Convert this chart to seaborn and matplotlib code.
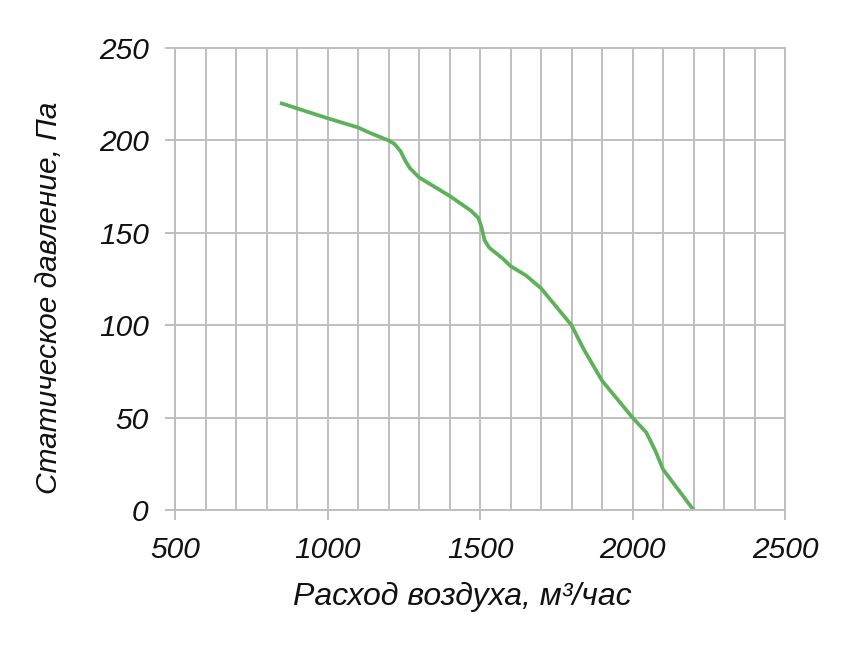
import matplotlib
matplotlib.use("Agg")
import matplotlib.pyplot as plt
import seaborn as sns
import pandas as pd
from matplotlib.ticker import MultipleLocator

# Характеристика вентилятора
расход = [850, 1000, 1100, 1140, 1200, 1220, 1240, 1255, 1270, 1300, 1360, 1400, 1470, 1495, 1505,
          1515, 1530, 1575, 1600, 1650, 1700, 1750, 1800, 1840, 1900, 2000, 2045, 2075, 2100, 2200]
давление = [220, 212, 207, 204, 200, 198, 194, 189, 185, 180, 174, 170, 162, 158, 153,
            146, 142, 136, 132, 127, 120, 110, 100, 87, 70, 50, 42, 32, 22, 0]

df = pd.DataFrame({'расход': расход, 'давление': давление})

plt.rcParams['font.family'] = ['Liberation Sans', 'DejaVu Sans']

grid_color = '#BFBFBF'
text_color = '#111111'

fig = plt.figure(figsize=(8.57, 6.54), dpi=100, facecolor='white')
ax = fig.add_axes([0.2042, 0.2202, 0.7118, 0.7064])

sns.lineplot(data=df, x='расход', y='давление', ax=ax, color='#5DB15A', linewidth=2.7)

ax.set_xlim(500, 2500)
ax.set_ylim(0, 250)
ax.xaxis.set_major_locator(MultipleLocator(500))
ax.xaxis.set_minor_locator(MultipleLocator(100))
ax.yaxis.set_major_locator(MultipleLocator(50))

ax.grid(True, which='major', axis='y', color=grid_color, linewidth=1.4)
ax.grid(True, which='both', axis='x', color=grid_color, linewidth=1.4)
ax.set_axisbelow(True)
for s in ax.spines.values():
    s.set_color(grid_color)
    s.set_linewidth(1.4)

ax.tick_params(axis='both', which='major', direction='out', length=7, width=1.4,
               color=grid_color, labelsize=21.5, labelcolor=text_color, pad=12)
ax.tick_params(axis='x', which='minor', length=0)
ax.tick_params(axis='x', which='major', pad=12)
for lbl in ax.get_xticklabels() + ax.get_yticklabels():
    lbl.set_fontstyle('italic')

ax.set_xlabel("Расход воздуха, м³/час", fontsize=23, fontstyle='italic', color=text_color)
ax.set_ylabel("Статическое давление, Па", fontsize=21.5, fontstyle='italic', color=text_color)
ax.xaxis.set_label_coords(0.471, -0.155)
ax.yaxis.set_label_coords(-0.184, 0.46)

fig.savefig("out.png", dpi=100, facecolor='white')
